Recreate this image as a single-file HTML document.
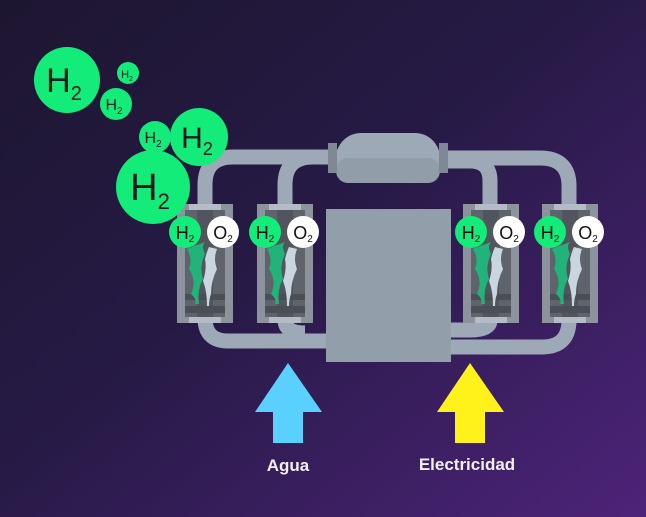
<!DOCTYPE html>
<html><head><meta charset="utf-8"><style>
html,body{margin:0;padding:0;width:646px;height:517px;overflow:hidden}
svg{display:block}
text{font-family:"Liberation Sans","DejaVu Sans",sans-serif}
</style></head><body>
<svg width="646" height="517" viewBox="0 0 646 517" xmlns="http://www.w3.org/2000/svg">
<defs>
<linearGradient id="bg" x1="0" y1="0" x2="1" y2="1">
<stop offset="0" stop-color="#1d1630"/>
<stop offset="0.45" stop-color="#261a45"/>
<stop offset="1" stop-color="#4d2379"/>
</linearGradient>
<g id="cell">
<rect x="0" y="0" width="56" height="119" fill="#8d939d"/>
<rect x="8" y="6" width="40" height="107" fill="#5e636c"/>
<rect x="20" y="6" width="16" height="107" fill="#51555d"/>
<rect x="12" y="0" width="32" height="6" fill="#b4bcc7"/>
<rect x="12" y="113" width="32" height="6" fill="#b4bcc7"/>
<rect x="8" y="90" width="40" height="6" fill="#4a4e55"/>
<rect x="8" y="102" width="40" height="7" fill="#4a4e55"/>
<path d="M10 45 q6 10 2 20 q8 12 2 25 q6 5 4 10 l4 0 q-2 -15 4 -25 q-4 -12 2 -25 q-4 -8 0 -12 z" fill="#22b37a"/>
<path d="M40 45 q-4 10 0 20 q-6 12 -6 25 q-2 5 -2 12 l-2 0 q0 -15 -4 -25 q4 -12 2 -22 q2 -8 4 -12 z" fill="#c9d6e0"/>
<circle cx="8" cy="28" r="16" fill="#14ec7a"/>
<text x="8" y="35" text-anchor="middle" font-size="18" fill="#111">H<tspan font-size="10" dy="3">2</tspan></text>
<circle cx="46" cy="28" r="16" fill="#ffffff"/>
<text x="46" y="35" text-anchor="middle" font-size="18" fill="#111">O<tspan font-size="10" dy="3">2</tspan></text>
</g>
</defs>
<rect width="646" height="517" fill="url(#bg)"/>
<g fill="none" stroke="#9ea9b7" stroke-width="15">
<path d="M205 210 V185 Q205 157 233 157 H340"/>
<path d="M285 210 V185 Q285 157 313 157"/>
<path d="M205 320 V318 Q205 341 228 341 H340"/>
<path d="M285 320 Q285 333 305 333"/>
<path d="M440 158 H540 Q569 158 569 186 V210"/>
<path d="M440 161 H470 Q490 161 490 181 V210"/>
<path d="M569 320 Q569 347 542 347 H440"/>
<path d="M490 320 Q490 330 470 330 H440"/>
</g>
<rect x="336" y="133" width="104" height="50" rx="25" fill="#9ea9b7"/>
<rect x="336" y="158" width="104" height="25" rx="12" fill="#929daa"/>
<rect x="328" y="143" width="9" height="30" fill="#7f8894"/>
<rect x="439" y="143" width="9" height="30" fill="#7f8894"/>
<rect x="326" y="209" width="125" height="153" fill="#939eab"/>
<use href="#cell" x="177" y="204"/>
<use href="#cell" x="257" y="204"/>
<use href="#cell" x="463" y="204"/>
<use href="#cell" x="542" y="204"/>
<g fill="#14ec7a">
<circle cx="67" cy="80" r="33"/><circle cx="128" cy="73" r="11"/><circle cx="116" cy="104" r="16"/>
<circle cx="155" cy="137" r="16"/><circle cx="199" cy="137" r="29"/><circle cx="153" cy="187" r="37"/>
</g>
<g fill="#1a1a22" text-anchor="middle">
<text x="64" y="92" font-size="34">H<tspan font-size="20" dy="8">2</tspan></text>
<text x="127" y="78" font-size="11">H<tspan font-size="7" dy="3">2</tspan></text>
<text x="114" y="110" font-size="16">H<tspan font-size="10" dy="4">2</tspan></text>
<text x="153" y="143" font-size="16">H<tspan font-size="10" dy="4">2</tspan></text>
<text x="197" y="148" font-size="30">H<tspan font-size="18" dy="7">2</tspan></text>
<text x="150" y="200" font-size="38">H<tspan font-size="22" dy="9">2</tspan></text>
</g>
<path d="M288 363 L322 412 H303 V443 H273 V412 H255 Z" fill="#5ad0ff"/>
<path d="M470 363 L504 412 H485 V443 H455 V412 H437 Z" fill="#fff21a"/>
<text x="288" y="471" text-anchor="middle" font-size="17" font-weight="bold" fill="#f3f0f8">Agua</text>
<text x="467" y="470" text-anchor="middle" font-size="17" font-weight="bold" fill="#f3f0f8">Electricidad</text>
</svg>
</body></html>
